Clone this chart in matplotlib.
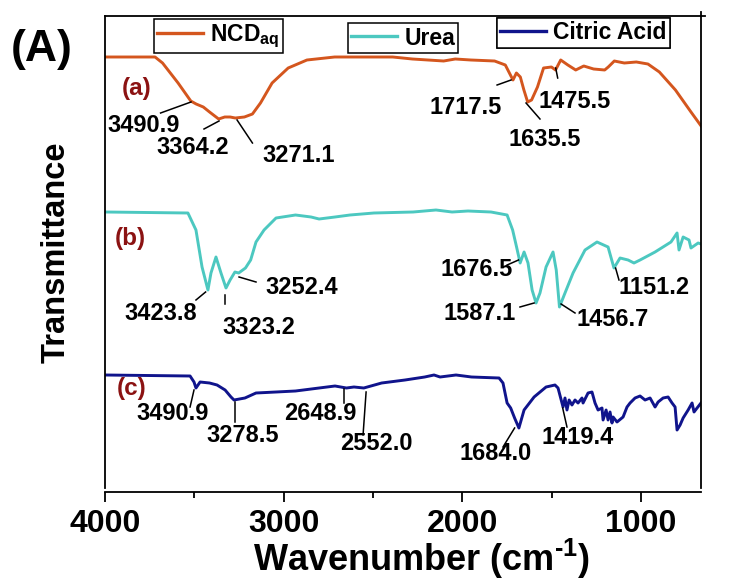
import matplotlib
matplotlib.use('Agg')
import matplotlib.pyplot as plt
from matplotlib.lines import Line2D

plt.rcParams['font.family'] = ['Liberation Sans', 'DejaVu Sans']
plt.rcParams['font.weight'] = 'bold'
plt.rcParams['mathtext.fontset'] = 'custom'
plt.rcParams['mathtext.rm'] = 'Liberation Sans:bold'
plt.rcParams['mathtext.bf'] = 'Liberation Sans:bold'
plt.rcParams['mathtext.it'] = 'Liberation Sans:bold'

# ---------------- data (transmittance in arbitrary, offset units) ----------------
ncd_wn = [4000, 3720, 3678, 3591, 3520, 3490, 3450, 3415, 3364, 3330, 3300, 3271, 3220, 3175,
          3130, 3065, 2975, 2870, 2715, 2495, 2390, 2280, 2105, 2040, 1953, 1820, 1760, 1740,
          1717, 1698, 1676, 1656, 1635, 1613, 1580, 1546, 1502, 1479, 1450, 1410, 1366, 1321,
          1266, 1204, 1184, 1150, 1094, 1027, 962, 898, 808, 721, 640]
ncd_t = [443, 443, 437, 417, 399, 396, 393, 388, 381, 383, 383, 382, 383, 386,
         397, 417, 432, 440, 443, 443, 443, 441, 439, 441, 440, 439, 435, 428,
         420, 427, 423, 410, 398, 400, 413, 432, 433, 430, 440, 435, 430, 434,
         431, 430, 433, 439, 437, 438, 436, 428, 410, 388, 368]

urea_wn = [4000, 3536, 3491, 3457, 3424, 3407, 3379, 3351, 3323, 3300, 3273, 3252, 3214, 3185,
           3155, 3110, 3043, 2934, 2847, 2802, 2713, 2629, 2495, 2276, 2148, 2058, 1969, 1840,
           1750, 1719, 1697, 1677, 1655, 1633, 1610, 1588, 1566, 1532, 1493, 1475, 1457, 1426,
           1381, 1314, 1247, 1185, 1152, 1118, 1073, 1040, 1006, 922, 833, 799, 788, 765, 732,
           721, 681, 648]
urea_t = [288, 287, 270, 233, 210, 227, 243, 227, 212, 220, 228, 227, 232, 240,
          258, 270, 282, 285, 283, 281, 283, 285, 287, 288, 290, 288, 289, 288,
          285, 270, 253, 237, 248, 237, 210, 197, 207, 233, 248, 230, 193, 207,
          227, 250, 258, 253, 232, 242, 240, 237, 240, 248, 258, 267, 250, 263, 260,
          252, 257, 255]

citric_wn = [4000, 3524, 3502, 3491, 3468, 3415, 3373, 3328, 3295, 3278,
             3217, 3155, 3043, 2934, 2802, 2713, 2649, 2607, 2552, 2452,
             2321, 2211, 2159, 2125, 2036, 1949, 1795, 1773, 1750, 1730,
             1708, 1684, 1655, 1599, 1532, 1482, 1465, 1437, 1426, 1415,
             1403, 1387, 1370, 1353, 1331, 1325, 1297, 1275, 1258, 1241,
             1219, 1213, 1196, 1185, 1174, 1163, 1157, 1135, 1101, 1079,
             1062, 1034, 1006, 978, 950, 922, 905, 877, 849, 827,
             810, 799, 782, 765, 737, 715, 704, 687, 665]
citric_t = [125, 124, 118, 112, 118, 117, 115, 110, 103, 100,
            102, 107, 108, 109, 112, 114, 112, 113, 112, 117,
            120, 123, 125, 123, 125, 123, 122, 117, 97, 92,
            82, 72, 90, 103, 113, 115, 112, 93, 102, 90,
            100, 95, 100, 97, 102, 97, 107, 108, 97, 90,
            92, 80, 90, 80, 88, 77, 83, 78, 83, 93,
            97, 102, 104, 100, 102, 93, 98, 102, 103, 97,
            93, 70, 75, 82, 90, 97, 88, 92, 97]

series_names = ['NCD$_{aq}$', 'Urea', 'Citric Acid']
series_colors = ['#D4561E', '#4CC8C0', '#10148C']

x_ticks = [4000, 3000, 2000, 1000]
x_minor = [3500, 2500, 1500]

# peak annotations: label, text position, leader line (from -> to)
peak_labels = [
    ('3490.9', 3784, 375, 3689, 387, 3519, 398),
    ('3364.2', 3508, 352, 3446, 371, 3362, 379),
    ('3271.1', 2914, 345, 3261, 380, 3175, 357),
    ('1717.5', 1980, 393, 1806, 415, 1728, 420),
    ('1635.5', 1538, 360, 1644, 397, 1566, 381),
    ('1475.5', 1370, 398, 1478, 432, 1467, 422),
    ('3423.8', 3687, 187, 3437, 208, 3491, 200),
    ('3323.2', 3138, 173, 3328, 205, 3328, 196),
    ('3252.4', 2898, 213, 3250, 223, 3155, 218),
    ('1676.5', 1918, 230, 1750, 235, 1686, 240),
    ('1587.1', 1901, 187, 1678, 193, 1599, 197),
    ('1456.7', 1157, 181, 1448, 196, 1370, 187),
    ('1151.2', 928, 212, 1143, 232, 1124, 220),
    ('3490.9', 3619, 87, 3502, 110, 3524, 93),
    ('3278.5', 3228, 64, 3273, 98, 3273, 78),
    ('2648.9', 2797, 87, 2660, 111, 2660, 97),
    ('2552.0', 2483, 56, 2539, 108, 2556, 65),
    ('1684.0', 1812, 47, 1708, 72, 1773, 53),
    ('1419.4', 1353, 63, 1439, 92, 1415, 73),
]
curve_tags = [('(a)', 3821, 412), ('(b)', 3860, 262), ('(c)', 3849, 112)]

# ---------------- figure ----------------
fig = plt.figure(figsize=(7.37, 5.83), dpi=100)
ax = fig.add_axes([105 / 737, 1 - 488 / 583, 596 / 737, 472 / 583])

for wn, t, c in zip([ncd_wn, urea_wn, citric_wn], [ncd_t, urea_t, citric_t], series_colors):
    ax.plot(wn, t, color=c, lw=2.1, solid_joinstyle='round')

for lab, tx, ty, x0, y0, x1, y1 in peak_labels:
    ax.plot([x0, x1], [y0, y1], color='black', lw=1.1)
    ax.text(tx, ty, lab, ha='center', va='center', fontsize=17, fontweight='bold', color='black')

for lab, tx, ty in curve_tags:
    ax.text(tx, ty, lab, ha='center', va='center', fontsize=17.5, fontweight='bold', color='#8B1212')

ax.set_xlim(4000, 665)
ax.set_ylim(12, 484)
ax.set_yticks([])
ax.set_xticks(x_ticks)
ax.set_xticklabels([str(v) for v in x_ticks])
ax.set_xticks(x_minor, minor=True)
ax.tick_params(axis='x', which='major', direction='out', length=7, width=1.3,
               labelsize=23, pad=5)
ax.tick_params(axis='x', which='minor', direction='out', length=4.5, width=1.3)
for s in ax.spines.values():
    s.set_linewidth(1.3)
ax.spines['bottom'].set_position(('outward', 3))
# small corner mark at the top-right, as in the original frame
ax.plot([1, 1], [1, 1.009], transform=ax.transAxes, color='black', lw=1.3, clip_on=False)
ax.plot([1, 1.006], [1, 1], transform=ax.transAxes, color='black', lw=1.3, clip_on=False)

ax.set_xlabel('Wavenumber (cm$^{\\text{-}1}$)', fontsize=26, fontweight='bold')
ax.xaxis.set_label_coords(0.532, -0.104)
ax.set_ylabel('Transmittance', fontsize=23.5, fontweight='bold')
ax.yaxis.set_label_coords(-0.056, 0.50)

# three separate legend boxes
anchors = [(0.0822, 0.9936), (0.4077, 0.985), (0.6577, 0.9958)]
for name, c, anc in zip(series_names, series_colors, anchors):
    leg = ax.legend(handles=[Line2D([], [], color=c, lw=2.4)], labels=[name],
                    loc='upper left', bbox_to_anchor=anc, borderaxespad=0,
                    frameon=True, fancybox=False, edgecolor='black', framealpha=1,
                    fontsize=16.5, borderpad=0.15, handlelength=2.0, handletextpad=0.3)
    leg.get_frame().set_linewidth(1.1)
    ax.add_artist(leg)

fig.text(42 / 737, 1 - 50 / 583, '(A)', fontsize=32, fontweight='bold', ha='center', va='center')

fig.savefig('out.png', dpi=100)
